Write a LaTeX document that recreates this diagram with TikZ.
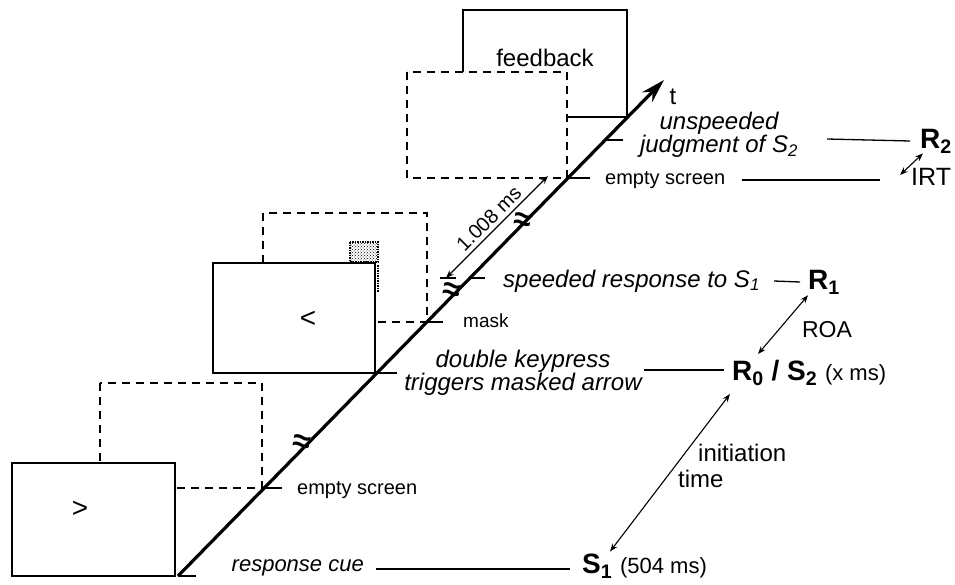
\documentclass[tikz,border=0pt]{standalone}
\usepackage{fontspec}
\setmainfont{Liberation Sans}
\usetikzlibrary{arrows.meta,patterns}

\begin{document}
\begin{tikzpicture}[
        x=1pt, y=-1pt,
        screen/.style={draw, line width=2pt, fill=white},
        blank/.style={draw, line width=1.8pt, dash pattern=on 8pt off 6pt, fill=white},
        evtext/.style={font=\fontsize{24}{20}\selectfont\itshape, align=center, inner sep=0pt},
        plaintext/.style={font=\fontsize{20}{22}\selectfont, inner sep=0pt},
        bigtext/.style={font=\fontsize{24}{26}\selectfont, inner sep=0pt},
        symtext/.style={font=\fontsize{28}{30}\selectfont, inner sep=0pt},
        outtext/.style={font=\fontsize{22}{24}\selectfont, inner sep=0pt},
        breakmark/.style={font=\fontsize{32}{32}\selectfont\bfseries, inner sep=0pt, rotate=-10},
        leader/.style={line width=1.3pt},
        tickmark/.style={line width=1.3pt},
        timeaxis/.style={-{Stealth[length=24pt,width=14pt]}, line width=3.2pt},
        span/.style={{Stealth[length=8pt,width=6pt]}-{Stealth[length=8pt,width=6pt]}, line width=1.1pt},
    ]
    \useasboundingbox (0,0) rectangle (955,584);

    % === Screens, latest at the back ===
    \draw[screen] (463,10) rectangle (627,117);   % feedback
    \draw[blank] (407,72) rectangle (567,178);    % empty screen
    \draw[blank] (263,213) rectangle (427,322);   % mask
    \draw[densely dotted, line width=1.5pt, pattern=crosshatch dots] (350,242) rectangle (378,262);
    \draw[densely dotted, line width=1.5pt] (378,265) -- (378,292);
    \draw[screen] (213,263) rectangle (375,373);  % arrow <
    \draw[blank] (100,383) rectangle (262,488);   % empty screen
    \draw[screen] (12,463) rectangle (175,576);   % response cue >

    \node[bigtext] (fb) at (545,58) {feedback};
    \node[symtext] (left) at (308,319) {<};
    \node[symtext] (right) at (80,509) {>};

    % === Time axis ===
    \coordinate (t0) at (178,576);
    \coordinate (tip) at (664,80);
    \draw[timeaxis] (t0) -- (tip);
    \node[bigtext] (t) at (673,97) {t};
    \foreach \y/\l in {576/18, 488/18, 373/20, 322/16, 278/15, 178/22, 140/18}
        \draw[tickmark] ({178+(576-\y)*0.98},\y) -- ++(\l,0);
    % breaks
    \node[breakmark] (brk1) at (302,444) {≈};
    \node[breakmark] (brk2) at (452,292) {≈};
    \node[breakmark] (brk3) at (523,222) {≈};

    % 1.008 ms
    \coordinate (dimlo) at (446,278);
    \coordinate (dimhi) at (548,176);
    \draw[span] (dimlo) -- node[sloped, above=4pt, plaintext] (dim) {1.008 ms} (dimhi);
    \draw[tickmark] ([shift={(-6,0)}]dimlo) -- ([shift={(10,0)}]dimlo);

    % === Event labels ===
    \node[evtext, font=\fontsize{22}{20}\selectfont\itshape, anchor=east] (cue) at (364,568) {response cue};
    \node[plaintext, anchor=west] (es1) at (297,490) {empty screen};
    \node[evtext] (keypress) at (523,373) {double keypress\\triggers masked arrow};
    \node[plaintext, font=\fontsize{19}{20}\selectfont, anchor=west] (mask) at (463,321) {mask};
    \node[evtext, anchor=west] (speeded) at (503,281) {speeded response to S\textsubscript{1}};
    \node[plaintext, anchor=west] (es2) at (605,180) {empty screen};
    \node[evtext, font=\fontsize{24}{17}\selectfont\itshape] (judge) at (719,135) {unspeeded\\judgment of S\textsubscript{2}};

    % === Measures ===
    \node[outtext, anchor=west] (s1) at (582,566) {\fontsize{28}{30}\selectfont\textbf{S\textsubscript{1}} \fontsize{22}{24}\selectfont(504 ms)};
    \node[outtext, anchor=west] (rs) at (732,373) {\fontsize{28}{30}\selectfont\textbf{R\textsubscript{0} / S\textsubscript{2}} \fontsize{22}{24}\selectfont(x ms)};
    \node[outtext, font=\fontsize{28}{30}\selectfont\bfseries, anchor=west] (r1) at (808,282) {R\textsubscript{1}};
    \node[outtext, font=\fontsize{28}{30}\selectfont\bfseries, anchor=west] (r2) at (920,141) {R\textsubscript{2}};
    \node[outtext, font=\fontsize{23}{24}\selectfont] (roa) at (827,330) {ROA};
    \node[outtext, font=\fontsize{25}{26}\selectfont, anchor=west] (irt) at (911,177) {IRT};
    \node[bigtext, align=left, anchor=west] (init) at (678,466) {\hspace*{20pt}initiation\\time};
    \coordinate (es2end) at (880,180);

    % leaders
    \draw[leader] ([shift={(12,1)}]cue.east) -- ([shift={(-12,1)}]cue.east -| s1.west);
    \draw[leader] ([shift={(2,-3)}]keypress.east) -- ([shift={(-8,-3)}]rs.west);
    \draw[leader] ([shift={(14,0)}]speeded.east) -- ([shift={(-8,0)}]r1.west);
    \draw[leader] ([shift={(29,4)}]judge.east) -- ([shift={(-10,0)}]r2.west);
    \draw[leader] ([shift={(17,0)}]es2.east) -- (es2end);

    % intervals
    \draw[span] ([shift={(28,-2)}]s1.north west) -- ([shift={(-2,8)}]rs.south west);
    \draw[span] ([shift={(26,-6)}]rs.north west) -- ([shift={(0,1)}]r1.south west);
    \draw[span] ([shift={(-11,-2)}]irt.west) -- ([shift={(3,0)}]r2.south west);

\end{tikzpicture}
\end{document}
